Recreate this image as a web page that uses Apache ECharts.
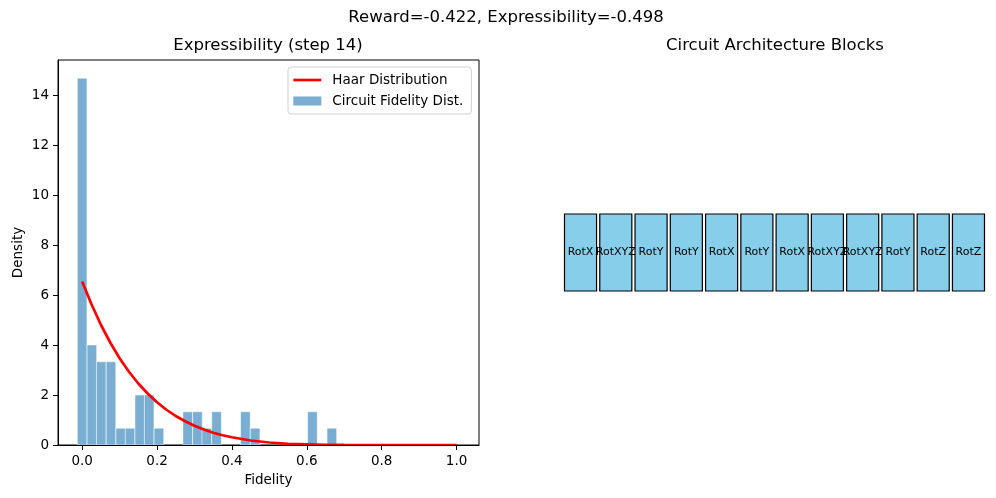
<!DOCTYPE html>
<html>
<head>
<meta charset="utf-8">
<script src="https://cdn.jsdelivr.net/npm/echarts@6/dist/echarts.min.js"></script>
<style>
    html, body { margin: 0; padding: 0; background: #fff; }
    #chart { width: 996px; height: 498px; }
</style>
</head>
<body>
<div id="chart"></div>
<script>
// histogram bins (centres) and densities
const binCenters = [0.000, 0.026, 0.051, 0.077, 0.103, 0.128, 0.154, 0.179, 0.205, 0.282, 0.308, 0.333, 0.359, 0.436, 0.462, 0.615, 0.667];
const densities = [14.67, 4.00, 3.33, 3.33, 0.67, 0.67, 2.00, 2.00, 0.67, 1.33, 1.33, 0.67, 1.33, 1.33, 0.67, 1.33, 0.67];
// Haar curve
const haarX = [0, 0.025, 0.05, 0.075, 0.1, 0.125, 0.15, 0.175, 0.2, 0.225, 0.25, 0.275, 0.3, 0.325, 0.35, 0.375, 0.4, 0.45, 0.5, 0.55, 0.6, 0.65, 0.7, 0.8, 0.9, 1.0];
const haarY = [6.54, 5.63, 4.81, 4.10, 3.47, 2.93, 2.46, 2.06, 1.71, 1.41, 1.16, 0.95, 0.77, 0.62, 0.49, 0.39, 0.31, 0.18, 0.10, 0.05, 0.03, 0.01, 0.005, 0.0, 0.0, 0.0];
// tick labels
const xTicks = [0, 0.2, 0.4, 0.6, 0.8, 1.0];
// circuit blocks
const blockLabels = ['RotX', 'RotXYZ', 'RotY', 'RotY', 'RotX', 'RotY', 'RotX', 'RotXYZ', 'RotXYZ', 'RotY', 'RotZ', 'RotZ'];

const FONT = 'DejaVu Sans';
const binWidth = 0.0256;
const barColor = '#79add2';

let myChart = echarts.init(document.getElementById('chart'));

myChart.setOption({
    animation: false,
    backgroundColor: '#fff',
    textStyle: { fontFamily: FONT, color: '#000' },
    title: [
        {
            text: 'Reward=-0.422, Expressibility=-0.498',
            left: 506, top: 9, textAlign: 'center', padding: 0,
            textStyle: { fontFamily: FONT, fontSize: 16.5, fontWeight: 'normal', color: '#000' }
        },
        {
            text: 'Expressibility (step 14)',
            left: 268, top: 37, textAlign: 'center', padding: 0,
            textStyle: { fontFamily: FONT, fontSize: 16.5, fontWeight: 'normal', color: '#000' }
        },
        {
            text: 'Circuit Architecture Blocks',
            left: 775, top: 37, textAlign: 'center', padding: 0,
            textStyle: { fontFamily: FONT, fontSize: 16.5, fontWeight: 'normal', color: '#000' }
        }
    ],
    legend: {
        orient: 'vertical',
        left: 288, top: 67,
        padding: [6, 8, 6, 4],
        itemGap: 7,
        itemWidth: 28,
        itemHeight: 9,
        backgroundColor: '#fff',
        borderColor: '#d0d0d0',
        borderWidth: 1,
        borderRadius: 3,
        textStyle: { fontFamily: FONT, fontSize: 13.5, color: '#000', padding: [0, 0, 0, 6] },
        data: [
            { name: 'Haar Distribution', itemStyle: { opacity: 0 }, lineStyle: { width: 2.7 } },
            { name: 'Circuit Fidelity Dist.', icon: 'rect' }
        ]
    },
    grid: [
        { left: 58, top: 60, width: 421, height: 385, show: true, borderColor: '#000', borderWidth: 1, backgroundColor: 'transparent' },
        { left: 564.5, top: 60, width: 420, height: 385 }
    ],
    xAxis: [
        {
            gridIndex: 0, type: 'value', min: -0.0645, max: 1.06, z: 5,
            name: 'Fidelity', nameLocation: 'middle', nameGap: 28,
            nameTextStyle: { fontFamily: FONT, fontSize: 13.5, color: '#000' },
            axisLine: { show: true, onZero: false, lineStyle: { color: '#000', width: 1 } },
            axisTick: { show: true, length: 5, lineStyle: { color: '#000' }, customValues: xTicks },
            axisLabel: {
                fontFamily: FONT, fontSize: 13.5, color: '#000', margin: 9,
                customValues: xTicks,
                formatter: (v) => v.toFixed(1)
            },
            splitLine: { show: false }
        },
        { gridIndex: 1, type: 'value', min: 0, max: 13.1, show: false }
    ],
    yAxis: [
        {
            gridIndex: 0, type: 'value', min: 0, max: 15.4, interval: 2, z: 5,
            name: 'Density', nameLocation: 'middle', nameGap: 33,
            nameTextStyle: { fontFamily: FONT, fontSize: 13.5, color: '#000' },
            axisLine: { show: true, onZero: false, lineStyle: { color: '#000', width: 1 } },
            axisTick: { show: true, length: 5, lineStyle: { color: '#000' } },
            axisLabel: { fontFamily: FONT, fontSize: 13.5, color: '#000', margin: 9, showMaxLabel: false },
            splitLine: { show: false }
        },
        { gridIndex: 1, type: 'value', min: 0, max: 1, show: false }
    ],
    series: [
        {
            name: 'Circuit Fidelity Dist.',
            type: 'custom',
            xAxisIndex: 0, yAxisIndex: 0,
            itemStyle: { color: barColor },
            data: binCenters.map((c, i) => [c, densities[i]]),
            renderItem(params, api) {
                let c = api.value(0);
                let p0 = api.coord([c - binWidth / 2, api.value(1)]);
                let p1 = api.coord([c + binWidth / 2, 0]);
                return {
                    type: 'rect',
                    shape: { x: p0[0], y: p0[1], width: p1[0] - p0[0], height: p1[1] - p0[1] },
                    style: { fill: barColor, stroke: '#fff', lineWidth: 0.5 }
                };
            },
            z: 2
        },
        {
            name: 'Haar Distribution',
            type: 'line',
            xAxisIndex: 0, yAxisIndex: 0,
            data: haarX.map((x, i) => [x, haarY[i]]),
            symbol: 'none',
            showSymbol: false,
            smooth: false,
            lineStyle: { color: '#ff0000', width: 2.7 },
            itemStyle: { color: '#ff0000' },
            z: 3
        },
        {
            name: 'blocks',
            type: 'custom',
            xAxisIndex: 1, yAxisIndex: 1,
            data: blockLabels.map((b, i) => [i, b]),
            renderItem(params, api) {
                let i = params.dataIndex;
                let p0 = api.coord([i * 1.1, 0.6]);
                let p1 = api.coord([i * 1.1 + 1, 0.4]);
                return {
                    type: 'group',
                    children: [
                        {
                            type: 'rect',
                            shape: { x: p0[0], y: p0[1], width: p1[0] - p0[0], height: p1[1] - p0[1] },
                            style: { fill: '#87ceeb', stroke: '#000', lineWidth: 1.2 }
                        },
                        {
                            type: 'text',
                            style: {
                                text: blockLabels[i],
                                x: (p0[0] + p1[0]) / 2, y: (p0[1] + p1[1]) / 2,
                                textAlign: 'center', textVerticalAlign: 'middle',
                                font: '11px "DejaVu Sans"', fill: '#000'
                            }
                        }
                    ]
                };
            }
        }
    ]
});
</script>
</body>
</html>
